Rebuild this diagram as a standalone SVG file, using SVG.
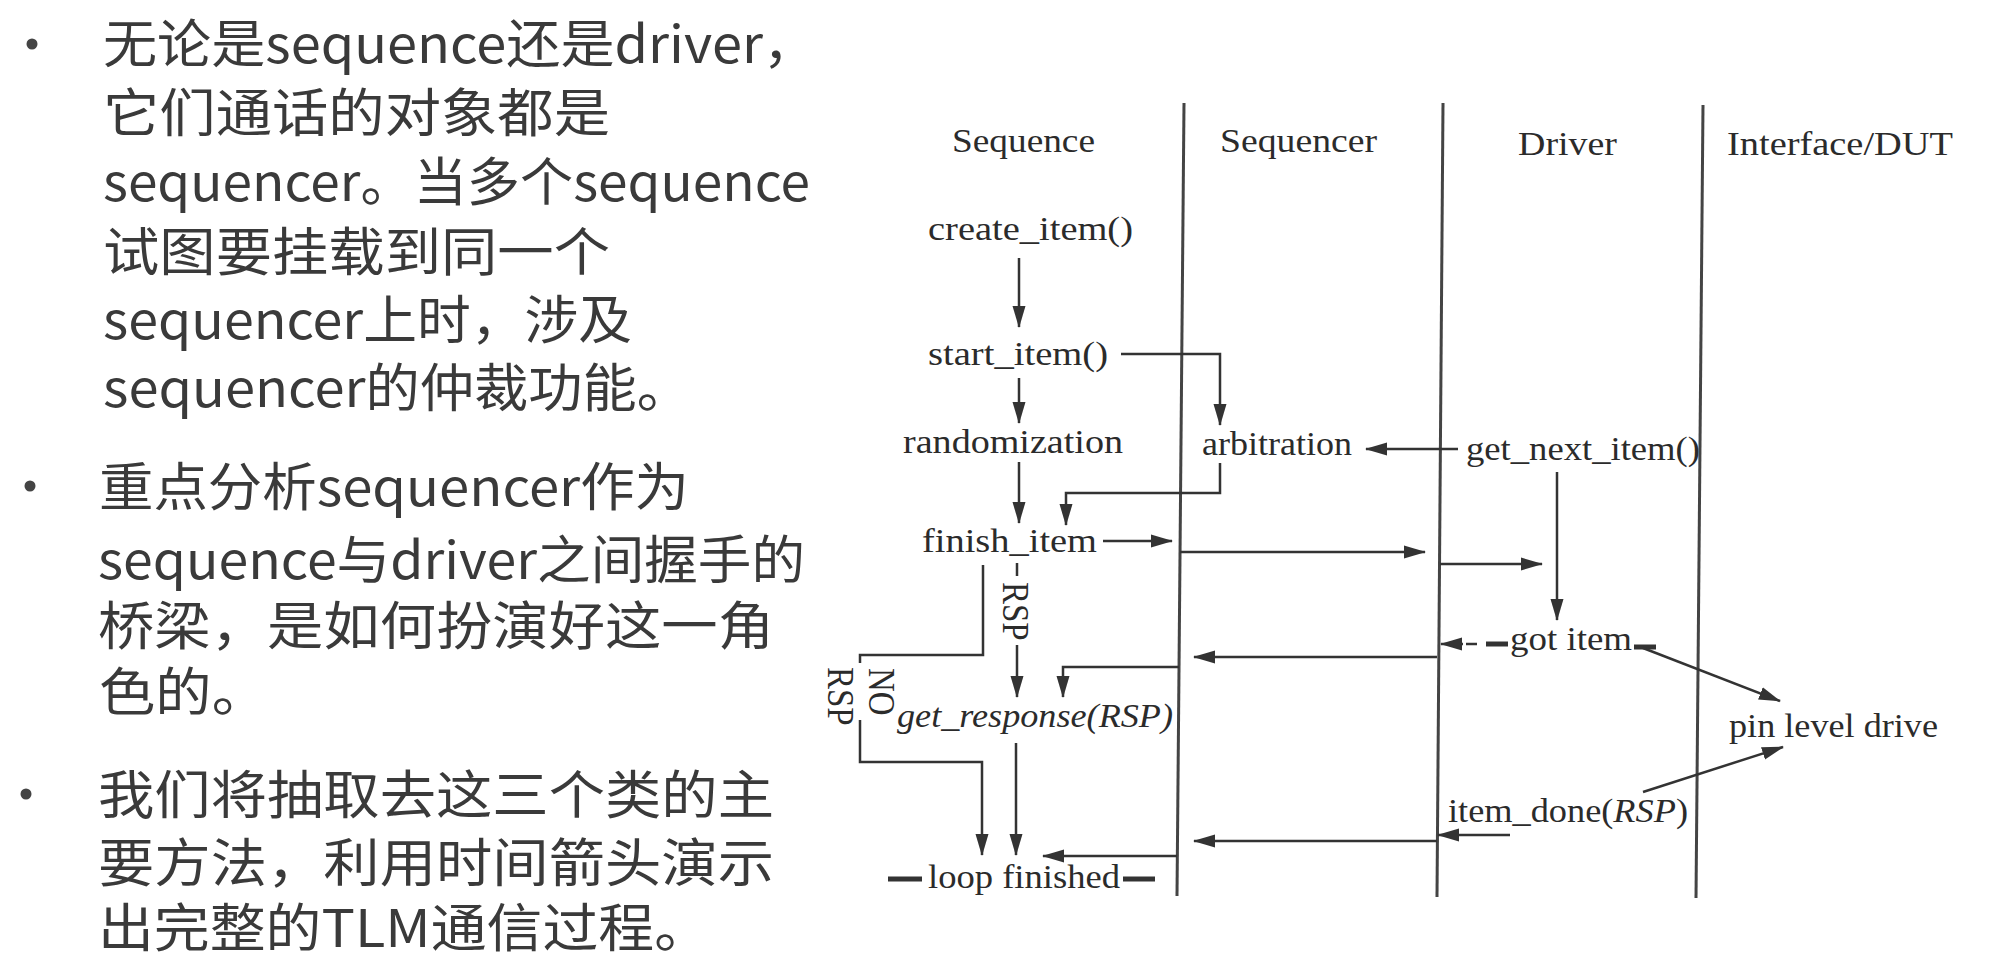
<svg xmlns="http://www.w3.org/2000/svg" width="2000" height="972" viewBox="0 0 2000 972">
<style>
.cn{font-family:"Noto Sans CJK SC","Noto Sans",sans-serif;font-size:52px;fill:#3a3a3a}
.t{font-family:"Liberation Serif","Times New Roman",serif;font-size:33px;fill:#2b2b2b}
.it{font-style:italic}
.life{stroke:#444;stroke-width:3;fill:none}
.c{stroke:#333;stroke-width:2.5;fill:none}
.a{stroke:#333;stroke-width:2.5;fill:none;marker-end:url(#ah)}
.thick{stroke:#333;stroke-width:5;fill:none}
.bul{fill:#444}
</style>
<defs>
<marker id="ah" markerUnits="userSpaceOnUse" markerWidth="24" markerHeight="16" refX="21" refY="7" orient="auto">
<path d="M0,0.5 L22,7 L0,13.5 z" fill="#333"/>
</marker>
</defs>
<rect width="2000" height="972" fill="#fff"/>

<g id="bullet-text">
<circle class="bul" cx="32" cy="44" r="5.5"/>
<text class="cn" x="103" y="63" textLength="714" lengthAdjust="spacingAndGlyphs">无论是sequence还是driver，</text>
<text class="cn" x="103" y="132" textLength="507" lengthAdjust="spacingAndGlyphs">它们通话的对象都是</text>
<text class="cn" x="103" y="201" textLength="707" lengthAdjust="spacingAndGlyphs">sequencer。当多个sequence</text>
<text class="cn" x="103" y="271" textLength="507" lengthAdjust="spacingAndGlyphs">试图要挂载到同一个</text>
<text class="cn" x="103" y="339" textLength="529" lengthAdjust="spacingAndGlyphs">sequencer上时，涉及</text>
<text class="cn" x="103" y="407" textLength="588" lengthAdjust="spacingAndGlyphs">sequencer的仲裁功能。</text>
<circle class="bul" cx="30" cy="486" r="5.5"/>
<text class="cn" x="99" y="506" textLength="590" lengthAdjust="spacingAndGlyphs">重点分析sequencer作为</text>
<text class="cn" x="98" y="579" textLength="707" lengthAdjust="spacingAndGlyphs">sequence与driver之间握手的</text>
<text class="cn" x="98" y="645" textLength="676" lengthAdjust="spacingAndGlyphs">桥梁，是如何扮演好这一角</text>
<text class="cn" x="99" y="711" textLength="169" lengthAdjust="spacingAndGlyphs">色的。</text>
<circle class="bul" cx="26" cy="794" r="5.5"/>
<text class="cn" x="98" y="814" textLength="676" lengthAdjust="spacingAndGlyphs">我们将抽取去这三个类的主</text>
<text class="cn" x="98" y="882" textLength="676" lengthAdjust="spacingAndGlyphs">要方法，利用时间箭头演示</text>
<text class="cn" x="98" y="947" textLength="612" lengthAdjust="spacingAndGlyphs">出完整的TLM通信过程。</text>
</g>

<g id="lifelines">
<path class="life" d="M1184 103 L1177 896"/>
<path class="life" d="M1443 103 L1437 897"/>
<path class="life" d="M1703 105 L1696 898"/>
</g>

<g id="hdr-sequence"><text class="t" x="952" y="152" textLength="143" lengthAdjust="spacingAndGlyphs">Sequence</text></g>
<g id="hdr-sequencer"><text class="t" x="1220" y="152" textLength="157" lengthAdjust="spacingAndGlyphs">Sequencer</text></g>
<g id="hdr-driver"><text class="t" x="1518" y="155" textLength="99" lengthAdjust="spacingAndGlyphs">Driver</text></g>
<g id="hdr-interface"><text class="t" x="1727" y="155" textLength="226" lengthAdjust="spacingAndGlyphs">Interface/DUT</text></g>

<g id="create-item"><text class="t" x="928" y="240" textLength="205" lengthAdjust="spacingAndGlyphs">create_item()</text></g>
<g id="start-item"><text class="t" x="928" y="365" textLength="180" lengthAdjust="spacingAndGlyphs">start_item()</text></g>
<g id="randomization"><text class="t" x="903" y="453" textLength="220" lengthAdjust="spacingAndGlyphs">randomization</text></g>
<g id="arbitration"><text class="t" x="1202" y="455" textLength="150" lengthAdjust="spacingAndGlyphs">arbitration</text></g>
<g id="get-next-item"><text class="t" x="1466" y="460" textLength="234" lengthAdjust="spacingAndGlyphs">get_next_item()</text></g>
<g id="finish-item"><text class="t" x="922" y="552" textLength="175" lengthAdjust="spacingAndGlyphs">finish_item</text></g>
<g id="got-item"><text class="t" x="1510" y="650" textLength="122" lengthAdjust="spacingAndGlyphs">got item</text></g>
<g id="get-response"><text class="t it" x="897" y="727" textLength="276" lengthAdjust="spacingAndGlyphs">get_response(RSP)</text></g>
<g id="pin-level-drive"><text class="t" x="1729" y="737" textLength="209" lengthAdjust="spacingAndGlyphs">pin level drive</text></g>
<g id="item-done"><text class="t" x="1448" y="822" textLength="240" lengthAdjust="spacingAndGlyphs">item_done(<tspan class="it">RSP</tspan>)</text></g>
<g id="loop-finished"><text class="t" x="928" y="888" textLength="192" lengthAdjust="spacingAndGlyphs">loop finished</text></g>

<g id="connectors">
<path class="a" d="M1019 258 V327"/>
<path class="a" d="M1121 354 H1220 V425"/>
<path class="a" d="M1019 378 V423"/>
<path class="a" d="M1458 449 H1366"/>
<path class="a" d="M1019 462 V523"/>
<path class="a" d="M1220 463 V493 H1066 V525"/>
<path class="a" d="M1103 541 H1172"/>
<path class="a" d="M1180 552 H1425"/>
<path class="a" d="M1440 564 H1542"/>
<path class="a" d="M1557 472 V620"/>
<path class="thick" d="M1508 644 H1486"/>
<path class="c" d="M1477 644 H1466"/>
<path class="a" d="M1463 644 H1441"/>
<path class="thick" d="M1634 647 H1656"/>
<path class="a" d="M1643 648 L1780 701"/>
<path class="a" d="M1437 657 H1194"/>
<path class="a" d="M1179 667 H1063 V697"/>
<path class="c" d="M1017 563 V576"/>
<path class="a" d="M1017 645 V697"/>
<path class="c" d="M983 565 V655 H860 V663"/>
<path class="a" d="M860 720 V762 H982 V855"/>
<path class="a" d="M1016 743 V855"/>
<path class="a" d="M1643 792 L1783 747"/>
<path class="a" d="M1510 835 H1438"/>
<path class="a" d="M1437 841 H1194"/>
<path class="a" d="M1177 856 H1043"/>
<path class="thick" d="M888 879 H922"/>
<path class="thick" d="M1123 879 H1155"/>
</g>

<g id="label-rsp"><text class="t" transform="translate(1003,582) scale(1.15,1) rotate(90)">RSP</text></g>
<g id="label-no-rsp">
<text class="t" transform="translate(869,668) scale(1.15,1) rotate(90)">NO</text>
<text class="t" transform="translate(828,667) scale(1.15,1) rotate(90)">RSP</text>
</g>
</svg>
